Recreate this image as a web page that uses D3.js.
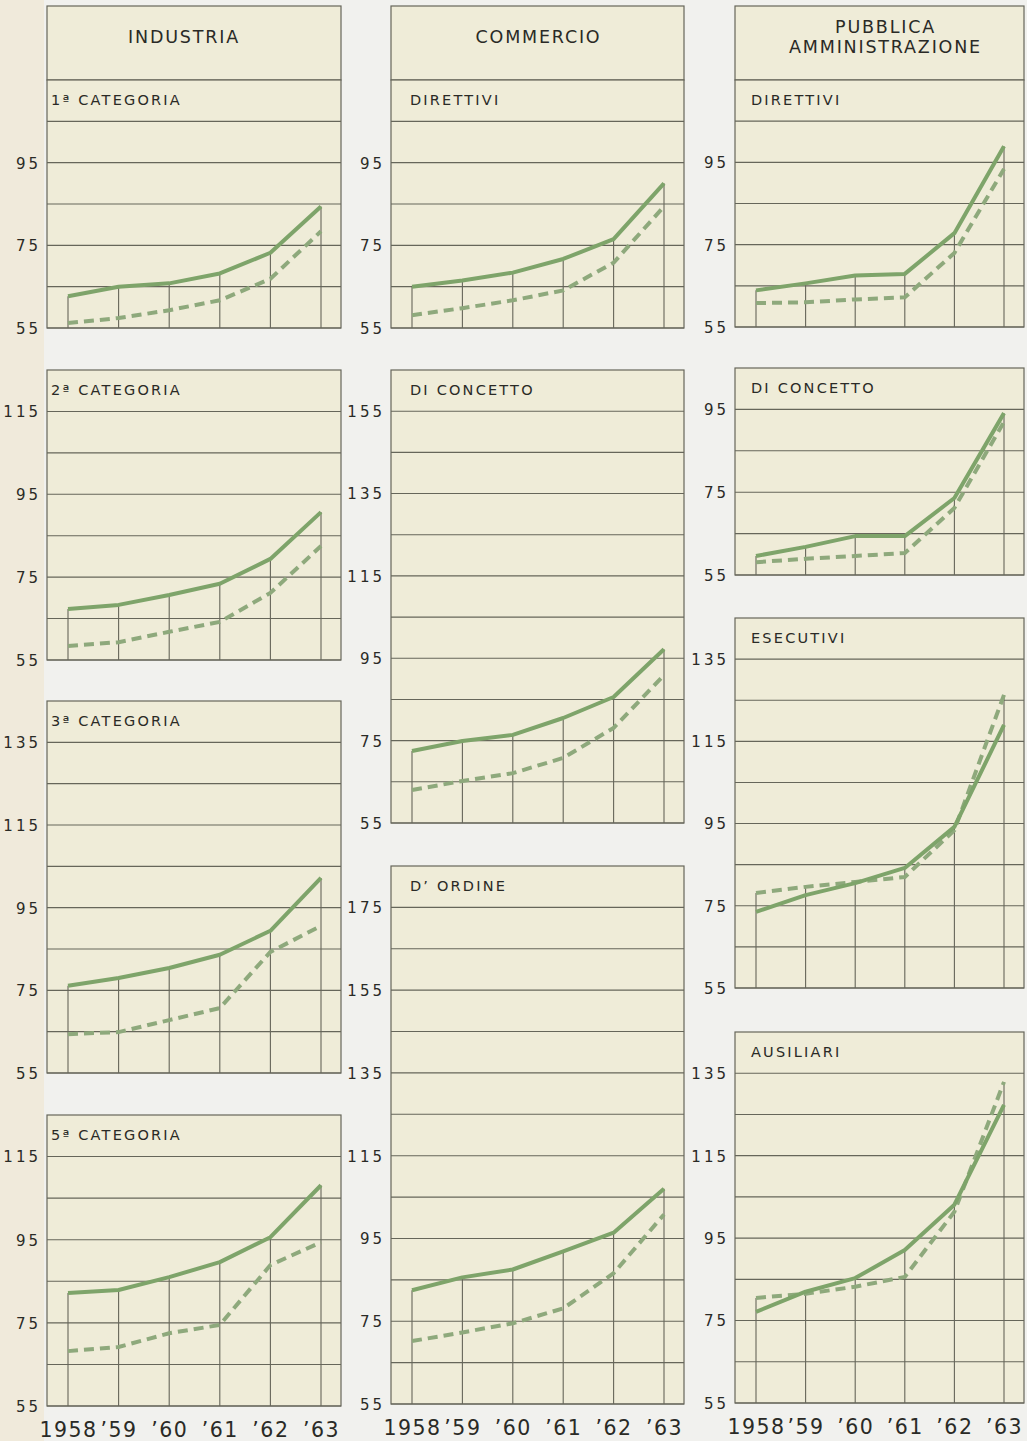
<!DOCTYPE html>
<html>
<head>
<meta charset="utf-8">
<script src="https://cdn.jsdelivr.net/npm/d3@7"></script>
<style>
  html, body { margin: 0; padding: 0; background: #f1f1ee; }
  svg { display: block; }
</style>
</head>
<body>
<svg id="chart" width="1027" height="1441"></svg>
<script>
// ---------------- DATA ----------------
const years = [1958, 1959, 1960, 1961, 1962, 1963];
const yearLabels = ["1958", "’59", "’60", "’61", "’62", "’63"];

const columnTitles = [["INDUSTRIA"], ["COMMERCIO"], ["PUBBLICA", "AMMINISTRAZIONE"]];
const panelTitles = [
  ["1ª CATEGORIA", "2ª CATEGORIA", "3ª CATEGORIA", "5ª CATEGORIA"],
  ["DIRETTIVI", "DI CONCETTO", "D’ ORDINE"],
  ["DIRETTIVI", "DI CONCETTO", "ESECUTIVI", "AUSILIARI"]
];
const panelTopLevels = [
  [115, 125, 145, 125],
  [115, 165, 185],
  [115, 105, 145, 145]
];

// Industria
const ind1Solid  = [62.7, 65.0, 65.8, 68.2, 73.2, 84.4];
const ind1Dashed = [56.2, 57.4, 59.3, 61.7, 66.9, 78.4];
const ind2Solid  = [67.3, 68.3, 70.7, 73.4, 79.4, 90.7];
const ind2Dashed = [58.4, 59.3, 61.8, 64.2, 71.2, 82.5];
const ind3Solid  = [76.1, 78.0, 80.4, 83.6, 89.4, 102.2];
const ind3Dashed = [64.4, 64.9, 67.8, 70.7, 84.3, 90.6];
const ind5Solid  = [82.2, 82.9, 86.0, 89.6, 95.6, 108.1];
const ind5Dashed = [68.2, 69.2, 72.5, 74.5, 88.9, 94.4];
// Commercio
const comDirSolid  = [65.0, 66.5, 68.4, 71.7, 76.5, 90.0];
const comDirDashed = [58.1, 59.8, 61.7, 64.1, 70.8, 84.4];
const comConSolid  = [72.5, 74.9, 76.4, 80.5, 85.6, 97.2];
const comConDashed = [63.0, 65.2, 67.1, 70.8, 78.1, 90.9];
const comOrdSolid  = [82.5, 85.6, 87.5, 91.9, 96.4, 107.0];
const comOrdDashed = [70.2, 72.3, 74.5, 78.1, 86.6, 100.8];
// Pubblica Amministrazione
const paDirSolid  = [63.9, 65.6, 67.5, 67.9, 77.8, 98.9];
const paDirDashed = [60.8, 61.0, 61.7, 62.2, 73.0, 93.4];
const paConSolid  = [59.6, 61.8, 64.4, 64.4, 73.6, 94.1];
const paConDashed = [58.1, 58.9, 59.6, 60.3, 71.2, 92.0];
const paEseSolid  = [73.5, 77.6, 80.5, 84.2, 94.2, 119.0];
const paEseDashed = [78.1, 79.6, 80.8, 82.0, 93.4, 126.3];
const paAusSolid  = [77.1, 82.0, 85.3, 92.1, 103.1, 127.3];
const paAusDashed = [80.5, 81.5, 83.2, 85.6, 101.4, 132.9];

const solidSeries = [
  [ind1Solid, ind2Solid, ind3Solid, ind5Solid],
  [comDirSolid, comConSolid, comOrdSolid],
  [paDirSolid, paConSolid, paEseSolid, paAusSolid]
];
const dashedSeries = [
  [ind1Dashed, ind2Dashed, ind3Dashed, ind5Dashed],
  [comDirDashed, comConDashed, comOrdDashed],
  [paDirDashed, paConDashed, paEseDashed, paAusDashed]
];
const baseLevel = 55;

// ---------------- LAYOUT ----------------
const colX = [[47, 341], [391, 684], [735, 1024]];
const panelY = [
  [[80, 328], [370, 660], [701, 1073], [1115, 1406]],
  [[80, 328], [370, 823], [866, 1404]],
  [[80, 327], [368, 575], [618, 988], [1032, 1403]]
];
const headerTop = 6;
const titleShift = [-11, 0, 5];
const subtitleInset = [4, 19, 16];

const C = {
  fill: "#efecd8",
  grid: "#66665a",
  text: "#2a2a26",
  solid: "#7ea46a",
  dashed: "#8ea97c"
};
const FONT = "'DejaVu Sans', sans-serif";

const svg = d3.select("#chart");
svg.append("rect").attr("x", 0).attr("y", 0).attr("width", 44).attr("height", 1441).attr("fill", "#f0eadb");

colX.forEach(([x0, x1], ci) => {
  const x = d3.scaleLinear().domain([years[0], years[years.length - 1]]).range([x0 + 21, x1 - 20]);

  // header box
  const hb = panelY[ci][0][0];
  const hg = svg.append("g");
  hg.append("rect").attr("x", x0).attr("y", headerTop).attr("width", x1 - x0).attr("height", hb - headerTop)
    .attr("fill", C.fill).attr("stroke", C.grid).attr("stroke-width", 1.2);
  const lines = columnTitles[ci];
  const cx = (x0 + x1) / 2 + titleShift[ci];
  const baseY = lines.length === 1 ? [43] : [33, 53];
  lines.forEach((t, i) => {
    hg.append("text").attr("x", cx + 1).attr("y", baseY[i]).attr("text-anchor", "middle")
      .attr("font-family", FONT).attr("font-size", 17.5)
      .attr("letter-spacing", "1.8px").attr("fill", C.text).text(t);
  });

  panelY[ci].forEach(([yTop, yBot], pi) => {
    const top = panelTopLevels[ci][pi];
    const y = d3.scaleLinear().domain([baseLevel, top]).range([yBot, yTop]);
    const g = svg.append("g");
    const s = solidSeries[ci][pi], dsh = dashedSeries[ci][pi];

    g.append("rect").attr("x", x0).attr("y", yTop).attr("width", x1 - x0).attr("height", yBot - yTop)
      .attr("fill", C.fill);

    // horizontal gridlines every 10
    const gridVals = d3.range(baseLevel, top, 10);
    g.selectAll("line.h").data(gridVals).join("line")
      .attr("x1", x0).attr("x2", x1).attr("y1", d => y(d)).attr("y2", d => y(d))
      .attr("stroke", C.grid).attr("stroke-width", 1.1);

    // drop lines
    g.selectAll("line.v").data(years).join("line")
      .attr("x1", d => x(d)).attr("x2", d => x(d))
      .attr("y1", yBot).attr("y2", (d, i) => y(Math.max(s[i], dsh[i])))
      .attr("stroke", C.grid).attr("stroke-width", 1.1);

    // border
    g.append("rect").attr("x", x0).attr("y", yTop).attr("width", x1 - x0).attr("height", yBot - yTop)
      .attr("fill", "none").attr("stroke", C.grid).attr("stroke-width", 1.2);

    // y axis labels
    const tickVals = d3.range(baseLevel, top, 20);
    const axis = d3.axisLeft(y).tickValues(tickVals).tickSize(0).tickPadding(0).tickFormat(d3.format("d"));
    const ag = g.append("g").attr("transform", `translate(${x0 - 6},0)`).call(axis);
    ag.select(".domain").remove();
    ag.selectAll("text").attr("font-family", FONT).attr("font-size", 15)
      .attr("letter-spacing", "3px").attr("fill", C.text).attr("dy", "0.36em");

    // panel title
    g.append("text").attr("x", x0 + subtitleInset[ci]).attr("y", yTop + 25)
      .attr("font-family", FONT).attr("font-size", 14.5)
      .attr("letter-spacing", "2.2px").attr("fill", C.text).text(panelTitles[ci][pi]);

    // series
    const line = d3.line().x((d, i) => x(years[i])).y(d => y(d));
    g.append("path").datum(dsh).attr("d", line).attr("fill", "none")
      .attr("stroke", C.dashed).attr("stroke-width", 4).attr("stroke-dasharray", "10,6");
    g.append("path").datum(s).attr("d", line).attr("fill", "none")
      .attr("stroke", C.solid).attr("stroke-width", 4).attr("stroke-linejoin", "round");

    // x axis labels at bottom panel
    if (pi === panelY[ci].length - 1) {
      const xa = d3.axisBottom(x).tickValues(years).tickSize(0).tickPadding(0)
        .tickFormat((d, i) => yearLabels[i]);
      const xg = g.append("g").attr("transform", `translate(0,${yBot + 31})`).call(xa);
      xg.select(".domain").remove();
      xg.selectAll("text").attr("font-family", FONT).attr("font-size", 20.5)
        .attr("letter-spacing", "1.5px").attr("fill", C.text).attr("dy", 0);
    }
  });
});
</script>
</body>
</html>
